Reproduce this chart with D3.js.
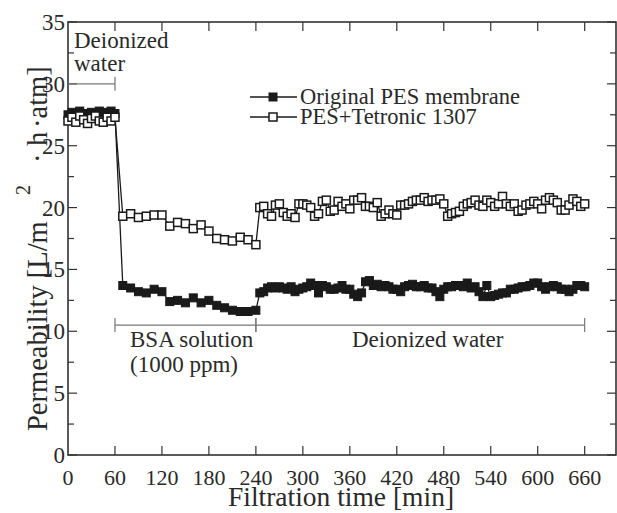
<!DOCTYPE html>
<html>
<head>
<meta charset="utf-8">
<script src="https://d3js.org/d3.v7.min.js"></script>
<style>
  body { margin: 0; background: #fff; }
</style>
</head>
<body>
<svg id="chart"></svg>
<script>
// ---- data ----
// feed water 0-60 min, 5 min apart
const diStart = 0, diStep = 5;
const pesDI   = [27.5, 27.7, 27.6, 27.8, 27.6, 27.5, 27.7, 27.6, 27.8, 27.7, 27.6, 27.8, 27.6];
const tetDI   = [27.0, 27.3, 26.9, 27.4, 27.1, 26.8, 27.2, 27.4, 27.0, 26.9, 27.3, 27.0, 27.3];
// BSA solution 70-240 min, 10 min apart
const bsaStart = 70, bsaStep = 10;
const pesBSA  = [13.7, 13.5, 13.2, 13.1, 13.4, 13.2, 12.4, 12.5, 12.3, 12.7, 12.3, 12.5, 12.1, 11.9, 11.7, 11.6, 11.6, 11.7];
const tetBSA  = [19.3, 19.5, 19.2, 19.3, 19.4, 19.4, 18.5, 18.8, 18.7, 18.3, 18.6, 18.1, 17.5, 17.4, 17.3, 17.6, 17.4, 17.0];
// deionized water again 245-660 min, 5 min apart
const di2Start = 245, di2Step = 5;
const pesDI2  = [13.1, 13.2, 13.5, 13.6, 13.5, 13.6, 13.5, 13.4, 13.6, 13.2, 13.4, 13.5, 13.6, 13.9, 13.7, 13.1,
                 13.7, 13.6, 13.4, 13.4, 13.5, 13.7, 13.4, 13.4, 13.0, 12.8, 13.1, 14.0, 14.1, 13.7, 13.8, 13.6,
                 13.7, 13.6, 13.4, 13.4, 13.2, 13.6, 13.7, 13.8, 13.6,
                 13.6, 13.7, 13.5, 13.5, 13.2, 12.8, 13.4, 13.6, 13.6, 13.7, 13.7, 13.6, 13.9, 13.5, 13.6, 13.2,
                 12.8, 13.7, 12.8, 12.9, 13.0, 13.1, 13.1, 13.4, 13.4, 13.5, 13.6, 13.6, 13.7, 13.9, 13.9, 13.6,
                 13.4, 13.6, 13.7, 13.6, 13.4, 13.4, 13.2, 13.4, 13.7, 13.7, 13.6];
const tetDI2  = [20.0, 20.1, 19.5, 19.3, 20.2, 20.3, 19.6, 19.3, 19.5, 19.2, 20.3, 20.3, 20.2, 20.0, 19.3, 19.5,
                 20.5, 20.6, 19.7, 19.8, 20.5, 20.1, 20.3, 19.9, 20.6, 20.6, 20.8, 20.1, 20.1, 20.0, 20.4, 19.3,
                 19.5, 19.8, 19.5, 19.4, 20.2, 20.2, 20.3, 20.5, 20.6, 20.6, 20.8, 20.5, 20.6, 20.6, 20.7, 20.3,
                 19.3, 19.5, 19.6, 19.7, 20.1, 20.3, 20.4, 20.6, 20.2, 20.1, 20.6, 20.4, 20.1, 20.3, 20.9, 20.3,
                 20.1, 20.3, 19.7, 19.8, 20.2, 20.3, 20.5, 20.3, 19.9, 20.6, 20.8, 20.6, 20.4, 19.8, 19.8, 20.2,
                 20.7, 20.5, 20.1, 20.3];

const seriesNames = ["Original PES membrane", "PES+Tetronic 1307"];
const xTicks = [0, 60, 120, 180, 240, 300, 360, 420, 480, 540, 600, 660];
const yTicks = [0, 5, 10, 15, 20, 25, 30, 35];
const phases = [
  {label: ["Deionized", "water"], from: 0, to: 60, level: 30},
  {label: ["BSA solution", "(1000 ppm)"], from: 60, to: 240, level: 10.5},
  {label: ["Deionized water"], from: 240, to: 660, level: 10.5}
];

function build(start, step, vals) {
  return vals.map((v, i) => ({t: start + i * step, v: v}));
}
const pes = [].concat(build(diStart, diStep, pesDI), build(bsaStart, bsaStep, pesBSA), build(di2Start, di2Step, pesDI2));
const tet = [].concat(build(diStart, diStep, tetDI), build(bsaStart, bsaStep, tetBSA), build(di2Start, di2Step, tetDI2));

// ---- layout ----
const W = 617, H = 513;
const FONT = '"Liberation Serif"';
const svg = d3.select("#chart").attr("width", W).attr("height", H);
const L = 68, R = 616, T = 22, B = 455;

const x = d3.scaleLinear().domain([0, 700]).range([L, R]);
const y = d3.scaleLinear().domain([0, 35]).range([B, T]);

const axisColor = "#333";
const txtColor = "#2a2a2a";

// frame
svg.append("rect").attr("x", L).attr("y", T).attr("width", R - L).attr("height", B - T)
   .attr("fill", "none").attr("stroke", axisColor).attr("stroke-width", 1.6);

// axes with inward ticks
const yMinor = d3.range(0, 35.1, 2.5);
function ticksY(g, side) {
  g.selectAll("line").data(yMinor).join("line")
    .attr("x1", 0).attr("x2", d => (d % 5 === 0 ? 9 : 6) * side)
    .attr("y1", d => y(d)).attr("y2", d => y(d))
    .attr("stroke", axisColor).attr("stroke-width", 1.2);
}
svg.append("g").attr("transform", `translate(${L},0)`).call(ticksY, 1);
svg.append("g").attr("transform", `translate(${R},0)`).call(ticksY, -1);

function ticksX(g, side) {
  g.selectAll("line").data(xTicks.slice(1)).join("line")
    .attr("x1", d => x(d)).attr("x2", d => x(d))
    .attr("y1", 0).attr("y2", 9 * side)
    .attr("stroke", axisColor).attr("stroke-width", 1.2);
}
svg.append("g").attr("transform", `translate(0,${B})`).call(ticksX, -1);
svg.append("g").attr("transform", `translate(0,${T})`).call(ticksX, 1);

// tick labels
svg.append("g").selectAll("text").data(yTicks).join("text")
  .attr("x", L - 3).attr("y", d => y(d) + 8)
  .attr("text-anchor", "end").attr("font-size", 23).attr("fill", txtColor)
  .style("font-family", FONT).text(d => d);
svg.append("g").selectAll("text").data(xTicks).join("text")
  .attr("x", d => x(d)).attr("y", B + 30)
  .attr("text-anchor", "middle").attr("font-size", 22).attr("fill", txtColor)
  .style("font-family", FONT).text(d => d);

// axis titles
svg.append("text").attr("x", 341).attr("y", 506).attr("text-anchor", "middle")
  .attr("font-size", 27.5).attr("fill", txtColor).style("font-family", FONT)
  .text("Filtration time [min]");
const yt = svg.append("text").attr("transform", `translate(47,431) rotate(-90)`)
  .attr("font-size", 28.5).attr("fill", txtColor).style("font-family", FONT);
yt.append("tspan").attr("x", 0).text("Permeability [L/m");
yt.append("tspan").attr("x", 236).attr("dy", -17).attr("font-size", 20).text("2");
yt.append("tspan").attr("x", 268).attr("dy", 17).text("\u00b7");
yt.append("tspan").attr("x", 285).text("h");
yt.append("tspan").attr("x", 303).text("\u00b7atm]");

// phase brackets
const brColor = "#777";
phases.forEach((p, i) => {
  const yy = y(p.level);
  svg.append("line").attr("x1", x(p.from)).attr("x2", x(p.to)).attr("y1", yy).attr("y2", yy)
    .attr("stroke", brColor).attr("stroke-width", 1.2);
  [p.from, p.to].forEach(t => {
    if (t === 0) return;
    svg.append("line").attr("x1", x(t)).attr("x2", x(t)).attr("y1", yy - 7).attr("y2", yy + 7)
      .attr("stroke", brColor).attr("stroke-width", 1.2);
  });
});
// phase labels
const lab = (tx, ty, s) => svg.append("text").attr("x", tx).attr("y", ty)
  .attr("font-size", 23).attr("fill", txtColor).style("font-family", FONT).text(s);
lab(74, 48, phases[0].label[0]);
lab(74, 71, phases[0].label[1]);
lab(130, 347, phases[1].label[0]);
lab(130, 372, phases[1].label[1]);
lab(352, 347, phases[2].label[0]);

// series
const line = d3.line().x(d => x(d.t)).y(d => y(d.v));
const S = 8;
function drawSeries(data, filled) {
  svg.append("path").datum(data).attr("d", line)
    .attr("fill", "none").attr("stroke", "#1a1a1a").attr("stroke-width", 1.3);
  svg.append("g").selectAll("rect").data(data).join("rect")
    .attr("x", d => x(d.t) - S / 2).attr("y", d => y(d.v) - S / 2)
    .attr("width", S).attr("height", S)
    .attr("fill", filled ? "#1a1a1a" : "#fff")
    .attr("stroke", "#1a1a1a").attr("stroke-width", filled ? 1 : 1.5);
}
drawSeries(pes, true);
drawSeries(tet, false);

// legend
const leg = svg.append("g");
seriesNames.forEach((name, i) => {
  const ly = 97 + i * 20;
  leg.append("line").attr("x1", 250).attr("x2", 297).attr("y1", ly).attr("y2", ly)
    .attr("stroke", "#1a1a1a").attr("stroke-width", 1.3);
  leg.append("rect").attr("x", 273 - S / 2).attr("y", ly - S / 2).attr("width", S).attr("height", S)
    .attr("fill", i === 0 ? "#1a1a1a" : "#fff").attr("stroke", "#1a1a1a").attr("stroke-width", i === 0 ? 1 : 1.5);
  leg.append("text").attr("x", 300).attr("y", ly + 7).attr("font-size", 22.5).attr("fill", txtColor)
    .style("font-family", FONT).text(name);
});
</script>
</body>
</html>
